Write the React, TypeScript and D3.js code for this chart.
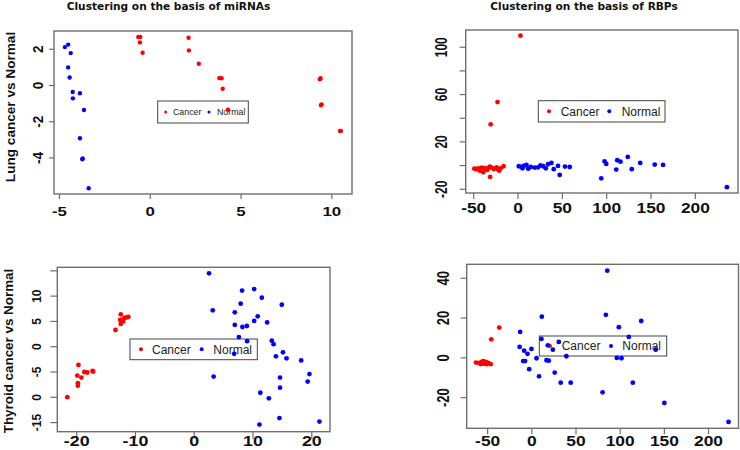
import React from 'react';
import * as d3 from 'd3';

type Pt = [number, number];

// ---------- DATA ----------
const lungMiCancer: Pt[] = [
  [-0.66, 2.68], [-0.55, 2.68], [-0.57, 2.38], [-0.42, 1.81], [2.11, 2.64], [2.13, 1.94],
  [2.67, 1.2], [3.8, 0.41], [3.93, 0.4], [3.99, -0.18], [4.28, -1.34], [9.34, 0.34],
  [9.38, 0.4], [9.4, -1.09], [9.44, -1.04], [10.45, -2.51], [10.5, -2.51],
];
const lungMiNormal: Pt[] = [
  [-4.7, 2.12], [-4.52, 2.26], [-4.38, 1.79], [-4.52, 1.0], [-4.44, 0.44], [-4.27, -0.36],
  [-3.87, -0.43], [-4.26, -0.71], [-3.65, -1.35], [-3.87, -2.91], [-3.74, -4.07],
  [-3.72, -4.03], [-3.39, -5.67],
];

const lungRbpCancer: Pt[] = [
  [2.8, 109.8], [-23.1, 53.7], [-30.9, 34.9], [-49.3, -2.6], [-46, -3.1], [-43, -4.3],
  [-39.2, -5.7], [-40.7, -1.7], [-37.3, -2.3], [-34.7, -3.7], [-31.7, -0.9], [-29.8, -1.7],
  [-27.2, -2.9], [-24.2, -1.5], [-21.2, -4.3], [-16.3, -0.6], [-31.4, -9.6], [-47.6, -2.9],
  [-44.3, -2.3], [-36.2, -2.9], [-33.2, -2.0], [-22.7, -3.1], [-19.7, -2.3],
];
const lungRbpNormal: Pt[] = [
  [0.9, -0.6], [3.9, -1.2], [6.5, -0.3], [9.5, 0.5], [5.0, -2.3], [11.4, -2.6], [14.4, -1.2],
  [18.9, -1.7], [22.6, -1.5], [25.3, 0.2], [28.3, -0.6], [31.3, -2.3], [33.9, 1.1], [37.7, 2.2],
  [40.3, -3.1], [45.1, -0.3], [47, -7.9], [53, -0.9], [58.3, -1.2], [93.9, -10.8], [97.6, 3.6],
  [99.5, 1.4], [110.8, -3.4], [111.9, 4.5], [115.6, 3.3], [123.8, 7.3], [128.3, -3.1],
  [137.8, 2.2], [154.2, 0.8], [163.6, 0.5], [235.6, -18.3],
];

const thyMiCancer: Pt[] = [
  [-21.6, -9.97], [-19.7, -3.6], [-19.9, -5.7], [-19.8, -7.2], [-19.8, -7.7], [-19.2, -6.1],
  [-18.7, -5.0], [-18.2, -5.1], [-17.3, -4.8], [-17.2, -4.9], [-13.4, 3.3], [-12.5, 6.4],
  [-12.6, 5.3], [-12.5, 4.5], [-12.1, 5.0], [-11.9, 5.7], [-11.2, 5.9], [-11.5, 5.8],
];
const thyMiNormal: Pt[] = [
  [2.52, 14.5], [3.15, 7.2], [3.3, -5.9], [8.14, 11.1], [10.2, 11.4], [11.5, 9.7], [7.9, 8.5],
  [6.9, 6.8], [14.9, 8.3], [10.8, 6.0], [10.2, 5.1], [12.4, 4.8], [6.9, 4.3], [8.2, 3.9],
  [8.95, 4.1], [7.6, 1.9], [9.0, 1.1], [13.2, 1.2], [13.5, 0.5], [6.8, -1.4], [15.1, -1.1],
  [13.9, -1.9], [15.7, -2.3], [18.2, -2.7], [19.6, -5.4], [14.6, -6.1], [19.3, -6.9],
  [14.6, -8.1], [11.25, -9.1], [12.7, -10.2], [14.5, -14.1], [11.1, -15.4], [21.3, -14.8],
];

const thyRbpCancer: Pt[] = [
  [-36.9, 15.2], [-45.9, 9.3], [-63.2, -2.4], [-59.4, -2.6], [-56.7, -2.1], [-54.9, -1.7],
  [-54.2, -2.9], [-51.9, -2.1], [-51.1, -3.1], [-49.3, -2.6], [-46.6, -3.2], [-57.9, -3.1],
  [-55.5, -2.8], [-53, -2.4],
];
const thyRbpNormal: Pt[] = [
  [11.3, 20.7], [-13.2, 13.0], [10.9, 9.5], [30.5, 8.0], [-13.8, 5.5], [18.1, 6.3], [-0.4, 4.5],
  [-8.7, 3.6], [23.8, 4.1], [-4.9, 2.0], [39.1, 0.8], [5.3, -0.2], [-9.8, -1.6], [-7.6, -1.6],
  [16.6, -1.2], [19.2, -1.4], [-3.0, -5.7], [25.9, -7.4], [8.2, -9.3], [32.7, -12.5],
  [44.0, -12.5], [85.4, 43.8], [83.8, 21.6], [123.8, 18.5], [98.5, 15.4], [109.8, 10.5],
  [140.2, 4.1], [96.2, -0.05], [101.5, -0.2], [114.3, -12.5], [80.1, -17.3], [150.0, -22.7],
  [222.6, -32.2],
];

const lungMiXTicks = [-5, 0, 5, 10];
const lungMiYTicks = [2, 0, -2, -4];
const lungMiYLabels = ['2', '0', '-2', '-4'];
const lungRbpXTicks = [-50, 0, 50, 100, 150, 200];
const lungRbpYTicks = [100, 80, 60, 40, 20, 0, -20];
const lungRbpYLabels = ['100', '', '60', '', '20', '', '-20'];
const thyMiXTicks = [-20, -10, 0, 10, 20];
const thyMiYTicks = [15, 10, 5, 0, -5, -10, -15];
const thyMiYLabels = ['', '10', '5', '0', '-5', '0', '-15'];
const thyRbpXTicks = [-50, 0, 50, 100, 150, 200];
const thyRbpYTicks = [40, 20, 0, -20];
const thyRbpYLabels = ['40', '20', '0', '-20'];

const legendLabels = ['Cancer', 'Normal'];
const titles = ['Clustering on the basis of miRNAs', 'Clustering on the basis of RBPs'];
const rowTitles = ['Lung cancer vs Normal', 'Thyroid cancer vs Normal'];

// ---------- LAYOUT ----------
const FONT = '"Liberation Sans", Arial, Helvetica, sans-serif';
const RED = '#ff0000';
const BLUE = '#0000ff';
const FRAME = '#6e6e6e';

interface PanelCfg {
  box: [number, number, number, number]; // x0, y0, x1, y1
  xDomain: [number, number];
  yDomain: [number, number];
  cancer: Pt[];
  normal: Pt[];
  xTicks: number[];
  yTicks: number[];
  yLabels: string[];
  xFont: number;
  xSx: number;
  xLabOff: number;
  yFont: number;
  ySx: number;
  yLabOff: number;
  tickLen: number;
  r: number;
  legend: { x0: number; y0: number; x1: number; y1: number; font: number; r: number; redX: number; cx: number; blueX: number; nx: number; base: number };
}

const panels: PanelCfg[] = [
  {
    box: [54, 31, 352, 194], xDomain: [-5.3, 11.11], yDomain: [-5.99, 3.01],
    cancer: lungMiCancer, normal: lungMiNormal,
    xTicks: lungMiXTicks, yTicks: lungMiYTicks, yLabels: lungMiYLabels,
    xFont: 13.5, xSx: 1.25, xLabOff: 22, yFont: 13.5, ySx: 1.1, yLabOff: 10.7, tickLen: 5, r: 2.2,
    legend: { x0: 157.7, y0: 101, x1: 248.3, y1: 123, font: 8.8, r: 1.5, redX: 165.7, cx: 173, blueX: 209, nx: 217, base: 115 },
  },
  {
    box: [465.7, 30, 738, 193], xDomain: [-59.0, 248.1], yDomain: [-23.2, 114.6],
    cancer: lungRbpCancer, normal: lungRbpNormal,
    xTicks: lungRbpXTicks, yTicks: lungRbpYTicks, yLabels: lungRbpYLabels,
    xFont: 15.5, xSx: 1.12, xLabOff: 19.7, yFont: 12, ySx: 1.35, yLabOff: 18.4, tickLen: 6, r: 2.4,
    legend: { x0: 538.3, y0: 100.7, x1: 665, y1: 122, font: 12, r: 2, redX: 549, cx: 560.7, blueX: 609.3, nx: 621.7, base: 115.6 },
  },
  {
    box: [57.3, 267.3, 330, 431.7], xDomain: [-23.3, 23.1], yDomain: [-16.8, 15.7],
    cancer: thyMiCancer, normal: thyMiNormal,
    xTicks: thyMiXTicks, yTicks: thyMiYTicks, yLabels: thyMiYLabels,
    xFont: 15.5, xSx: 1.15, xLabOff: 14.4, yFont: 12, ySx: 1.05, yLabOff: 16.6, tickLen: 7, r: 2.4,
    legend: { x0: 130, y0: 339, x1: 257.3, y1: 359.7, font: 12, r: 2, redX: 141, cx: 152, blueX: 201.7, nx: 213.3, base: 353.6 },
  },
  {
    box: [466.7, 264.3, 738.5, 428.3], xDomain: [-73.7, 233.9], yDomain: [-35.4, 47.0],
    cancer: thyRbpCancer, normal: thyRbpNormal,
    xTicks: thyRbpXTicks, yTicks: thyRbpYTicks, yLabels: thyRbpYLabels,
    xFont: 15.5, xSx: 1.12, xLabOff: 17.5, yFont: 13, ySx: 1.3, yLabOff: 17.7, tickLen: 6, r: 2.4,
    legend: { x0: 539.3, y0: 336, x1: 666.7, y1: 356, font: 12, r: 2, redX: 550, cx: 561.7, blueX: 611, nx: 622.3, base: 350.3 },
  },
];

function Panel({ p }: { p: PanelCfg }) {
  const [bx0, by0, bx1, by1] = p.box;
  const x = d3.scaleLinear().domain(p.xDomain).range([bx0, bx1]);
  const y = d3.scaleLinear().domain(p.yDomain).range([by1, by0]);
  const L = p.legend;
  return (
    <g>
      {/* legend (transparent background) */}
      <rect x={L.x0} y={L.y0} width={L.x1 - L.x0} height={L.y1 - L.y0} fill="none" stroke="#444" strokeWidth={1} />
      <circle cx={L.redX} cy={(L.y0 + L.y1) / 2} r={L.r} fill={RED} />
      <text x={L.cx} y={L.base} fontFamily={FONT} fontSize={L.font} fill="#222">{legendLabels[0]}</text>
      <circle cx={L.blueX} cy={(L.y0 + L.y1) / 2} r={L.r} fill={BLUE} />
      <text x={L.nx} y={L.base} fontFamily={FONT} fontSize={L.font} fill="#222">{legendLabels[1]}</text>

      {/* points */}
      {p.cancer.map((d, i) => (
        <circle key={'c' + i} cx={x(d[0])} cy={y(d[1])} r={p.r} fill={RED} />
      ))}
      {p.normal.map((d, i) => (
        <circle key={'n' + i} cx={x(d[0])} cy={y(d[1])} r={p.r} fill={BLUE} />
      ))}

      {/* frame */}
      <rect x={bx0} y={by0} width={bx1 - bx0} height={by1 - by0} fill="none" stroke={FRAME} strokeWidth={1.4} />

      {/* x axis */}
      {p.xTicks.map((t) => (
        <g key={'xt' + t}>
          <line x1={x(t)} x2={x(t)} y1={by1} y2={by1 + p.tickLen} stroke={FRAME} strokeWidth={1.2} />
          <text
            transform={`translate(${x(t)},${by1 + p.xLabOff}) scale(${p.xSx},1)`}
            textAnchor="middle" fontFamily={FONT} fontWeight="bold" fontSize={p.xFont} fill="#111"
          >{String(t)}</text>
        </g>
      ))}
      {/* y axis */}
      {p.yTicks.map((t, i) => (
        <g key={'yt' + t}>
          <line x1={bx0 - p.tickLen} x2={bx0} y1={y(t)} y2={y(t)} stroke={FRAME} strokeWidth={1.2} />
          {p.yLabels[i] ? (
            <text
              transform={`translate(${bx0 - p.yLabOff},${y(t)}) scale(${p.ySx},1) rotate(-90)`}
              textAnchor="middle" fontFamily={FONT} fontWeight="bold" fontSize={p.yFont} fill="#111"
            >{p.yLabels[i]}</text>
          ) : null}
        </g>
      ))}
    </g>
  );
}

export default function App() {
  return (
    <div style={{ position: 'absolute', left: 0, top: 0, width: 740, height: 450, background: '#fff' }}>
      <svg width={740} height={450} style={{ display: 'block' }}>
        <rect width={740} height={450} fill="#fff" />
        <text x={168.5} y={9.5} textAnchor="middle" fontFamily='"DejaVu Sans", sans-serif' fontWeight="bold" fontSize={10.6} fill="#111">{titles[0]}</text>
        <text x={584} y={9.5} textAnchor="middle" fontFamily='"DejaVu Sans", sans-serif' fontWeight="bold" fontSize={10.6} fill="#111">{titles[1]}</text>
        <text transform="translate(14.5,107) rotate(-90)" textAnchor="middle" fontFamily={FONT} fontWeight="bold" fontSize={13.6} fill="#111">{rowTitles[0]}</text>
        <text transform="translate(12.5,351) rotate(-90)" textAnchor="middle" fontFamily={FONT} fontWeight="bold" fontSize={13.4} fill="#111">{rowTitles[1]}</text>
        {panels.map((p, i) => <Panel key={i} p={p} />)}
      </svg>
    </div>
  );
}
